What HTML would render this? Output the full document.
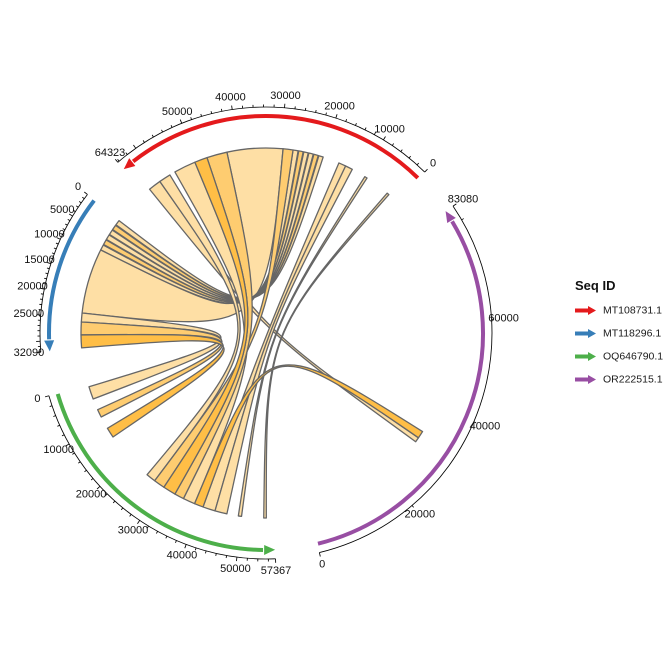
<!DOCTYPE html>
<html><head><meta charset="utf-8">
<style>html,body{margin:0;padding:0;background:#fff;width:672px;height:672px;overflow:hidden}</style>
</head>
<body>
<svg id="s" width="672" height="672" viewBox="0 0 672 672" xmlns="http://www.w3.org/2000/svg">
<rect width="672" height="672" fill="#fff"/>
<g id="links" stroke="#666666" stroke-width="1.3" stroke-linejoin="round"></g>
<g id="ring" stroke="#000" stroke-width="0.85" fill="none"></g>
<g id="arrows"></g>
<g id="labels" font-family="'Liberation Sans', Arial, sans-serif" font-size="11" fill="#111" text-anchor="middle" dominant-baseline="central">
<text>0</text><text>10000</text><text>20000</text><text>30000</text><text>40000</text><text>50000</text><text>64323</text>
<text>0</text><text>5000</text><text>10000</text><text>15000</text><text>20000</text><text>25000</text><text>32090</text>
<text>0</text><text>10000</text><text>20000</text><text>30000</text><text>40000</text><text>50000</text><text>57367</text>
<text>0</text><text>20000</text><text>40000</text><text>60000</text><text>83080</text>
</g>
<g id="legend" font-family="'Liberation Sans', Arial, sans-serif">
<text x="575" y="290" font-weight="bold" font-size="13" fill="#111">Seq ID</text>
<line x1="575" y1="310.5" x2="589" y2="310.5" stroke="#E41A1C" stroke-width="4"/>
<polygon points="588,306 596,310.5 588,315" fill="#E41A1C"/>
<text x="603" y="310.5" font-size="10.5" fill="#1a1a1a" dominant-baseline="central">MT108731.1</text>
<line x1="575" y1="333.5" x2="589" y2="333.5" stroke="#377EB8" stroke-width="4"/>
<polygon points="588,329 596,333.5 588,338" fill="#377EB8"/>
<text x="603" y="333.5" font-size="10.5" fill="#1a1a1a" dominant-baseline="central">MT118296.1</text>
<line x1="575" y1="356.5" x2="589" y2="356.5" stroke="#4DAF4A" stroke-width="4"/>
<polygon points="588,352 596,356.5 588,361" fill="#4DAF4A"/>
<text x="603" y="356.5" font-size="10.5" fill="#1a1a1a" dominant-baseline="central">OQ646790.1</text>
<line x1="575" y1="379.5" x2="589" y2="379.5" stroke="#984EA3" stroke-width="4"/>
<polygon points="588,375 596,379.5 588,384" fill="#984EA3"/>
<text x="603" y="379.5" font-size="10.5" fill="#1a1a1a" dominant-baseline="central">OR222515.1</text>
</g>
</svg>
<script>
(function(){
var NS="http://www.w3.org/2000/svg";
var cx=266, cy=333;
var k=315/236860;
var S=[{a0:44.6,len:64323,col:'#E41A1C',maj:10000,min:2000,ml:4,nl:2.5},
       {a0:-52.193,len:32090,col:'#377EB8',maj:5000,min:1000,ml:4,nl:2.5},
       {a0:-106.12,len:57367,col:'#4DAF4A',maj:10000,min:2000,ml:4,nl:2.5},
       {a0:-193.663,len:83080,col:'#984EA3',maj:20000,min:20000,ml:2.5,nl:2.5}];
function ang(s,p){return S[s].a0-p*k;}
function P(d,r){var t=d*Math.PI/180;return [cx+r*Math.sin(t),cy-r*Math.cos(t)];}
function f(p){return p[0].toFixed(2)+","+p[1].toFixed(2);}
function el(tag,attrs,parent){var e=document.createElementNS(NS,tag);for(var a in attrs)e.setAttribute(a,attrs[a]);parent.appendChild(e);return e;}
var ring=document.getElementById('ring');
var arrows=document.getElementById('arrows');
S.forEach(function(s,i){
  var e=ang(i,s.len);
  var R=226;
  el('path',{d:"M"+f(P(s.a0,R))+" A"+R+" "+R+" 0 0 0 "+f(P(e,R))},ring);
  var ps=[];
  for(var p=0;p<=s.len;p+=s.min)ps.push(p);
  if(ps[ps.length-1]!==s.len)ps.push(s.len);
  ps.forEach(function(p){
    var L=(p%s.maj===0||p===s.len)?s.ml:s.nl;
    if(p===0||p===s.len)L=4;
    var a=ang(i,p);
    el('line',{x1:P(a,R)[0],y1:P(a,R)[1],x2:P(a,R+L)[0],y2:P(a,R+L)[1]},ring);
  });
  var r=217, hb=e+2.9;
  el('path',{d:"M"+f(P(s.a0-0.2,r))+" A"+r+" "+r+" 0 0 0 "+f(P(hb+0.3,r)),fill:'none',stroke:s.col,'stroke-width':4},arrows);
  el('polygon',{points:f(P(e,r))+" "+f(P(hb,r-5))+" "+f(P(hb,r+5)),fill:s.col},arrows);
});
var labs=[[0,0],[0,10000],[0,20000],[0,30000],[0,40000],[0,50000],[0,64323],
[1,0],[1,5000],[1,10000],[1,15000],[1,20000],[1,25000],[1,32090],
[2,0],[2,10000],[2,20000],[2,30000],[2,40000],[2,50000],[2,57367],
[3,0],[3,20000],[3,40000],[3,60000],[3,83080]];
var tx=document.querySelectorAll('#labels text');
labs.forEach(function(l,i){var p=P(ang(l[0],l[1]),238);tx[i].setAttribute('x',p[0].toFixed(1));tx[i].setAttribute('y',p[1].toFixed(1));});
var L='#FEDFA5',M='#FECC70',D='#FFBE46';
var RR=185;
function norm(a){return ((a%360)+360)%360;}
function sw(a,b){var d=norm(b-a);return d<180?1:0;}
function rib(A1,A2,B1,B2,col,tw){
  var a1=Math.min(A1,A2),a2=Math.max(A1,A2);
  var d1=norm(B1-a2),d2=norm(B2-a2);
  var bf=d1<d2?B1:B2, bs=d1<d2?B2:B1;
  if(tw){var t=bf;bf=bs;bs=t;}
  var c=cx+","+cy;
  var d="M"+f(P(a1,RR))+" A"+RR+" "+RR+" 0 0 "+sw(a1,a2)+" "+f(P(a2,RR))+
        " C"+c+" "+c+" "+f(P(bf,RR))+
        " A"+RR+" "+RR+" 0 0 "+sw(bf,bs)+" "+f(P(bs,RR))+
        " C"+c+" "+c+" "+f(P(a1,RR))+" Z";
  el('path',{d:d,fill:col},document.getElementById('links'));
}
var links=[
 [-12.2,5.3,-83.8,-63.3,L,0],
 [8.4,10.0,-63.3,-61.6,L,0],
 [10.2,11.6,-61.4,-59.8,M,0],
 [11.8,13.2,-59.6,-58.0,L,0],
 [13.4,14.8,-57.8,-56.2,L,0],
 [15.0,16.4,-56.0,-54.4,M,0],
 [16.6,18.0,-54.2,-52.6,L,0],
 [-39,-35,-235.5,-234,L,0],
 [-35,-31.3,-143,-140,L,0],
 [-29.5,-22.6,-157.3,-153.5,L,0],
 [23.2,25.5,-164,-160.1,L,0],
 [25.5,27.8,-167.8,-164,L,0],
 [32.3,33.1,-172.4,-171.4,L,0],
 [40.9,41.6,-180.1,-179.3,L,0],
 [-86.6,-83.8,-110.9,-106.9,L,1],
 [5.3,8.4,-146.5,-143,M,0],
 [-18.6,-12.2,-153.5,-150.5,M,0],
 [-90.6,-86.6,-117,-114.5,M,1],
 [-22.6,-18.6,-150.5,-146.5,D,0],
 [-237.8,-235.5,-160.1,-157.3,D,0],
 [-94.6,-90.6,-124.2,-121,D,1]
];
links.forEach(function(l){rib(l[0],l[1],l[2],l[3],l[4],l[5]);});
})();
</script>
</body></html>
